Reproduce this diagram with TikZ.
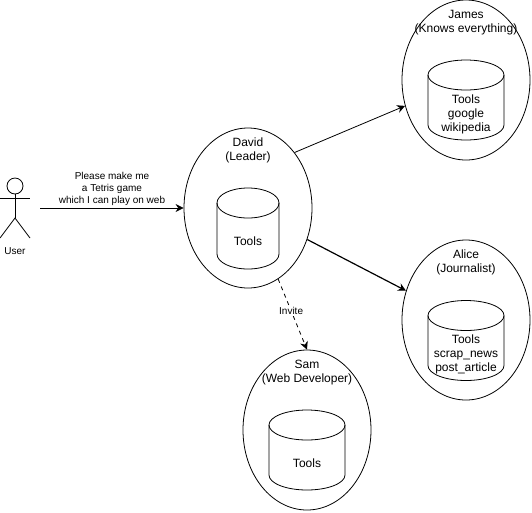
\documentclass[tikz,border=0pt]{standalone}
\usepackage{fontspec}
\setmainfont{Liberation Sans}
\usetikzlibrary{shapes.geometric,arrows.meta}
\tikzset{
    agent/.style={draw,ellipse,inner sep=0pt,minimum width=96pt,minimum height=120pt},
    txt/.style={align=center,inner sep=0pt,font=\fontsize{9}{10.5}\selectfont},
    small/.style={align=center,inner sep=1pt,font=\fontsize{7.5}{9}\selectfont},
    conn/.style={-{Stealth[length=6pt,width=6pt]},line width=.6pt},
    pics/toolsdb/.style 2 args={code={
        \draw (0,-#2+15) ellipse (#1 and 15);
        \draw (-#1,-#2+15)--(-#1,#2-15) arc (180:0:#1 and 15)--(#1,-#2+15);
    }},
}
\begin{document}
\begin{tikzpicture}[x=.75pt,y=-.75pt,line width=.6pt]
    \useasboundingbox (0,0) rectangle (532,512);
    % agents
    \node[agent] (david) at (248,208){};
    \node[agent] (james) at (466,80){};
    \node[agent] (alice) at (466,320){};
    \node[agent] (sam) at (307,430){};
    \node[txt] (davidname) at (248,150){David\\(Leader)};
    \node[txt] (jamesname) at (466,23){James\\(Knows everything)};
    \node[txt] (alicename) at (466,262){Alice\\(Journalist)};
    \node[txt] (samname) at (307,373){Sam\\(Web Developer)};
    % tools
    \pic at (248,228.5) {toolsdb={31}{40.5}};
    \pic at (466,100) {toolsdb={38}{40}};
    \pic at (466,340.5) {toolsdb={38}{40}};
    \pic at (307,450) {toolsdb={38}{40}};
    \node[txt] (davidlist) at (248,241){Tools};
    \node[txt] (jameslist) at (466,114){Tools\\google\\wikipedia};
    \node[txt] (alicelist) at (466,354){Tools\\scrap\_news\\post\_article};
    \node[txt] (samlist) at (307,463){Tools};
    % user
    \node[draw,circle,inner sep=0pt,minimum size=12pt] (head) at (15,186){};
    \coordinate (hip) at (15,218);
    \coordinate (handl) at (0,198);
    \coordinate (handr) at (30,198);
    \coordinate (footl) at (0,238);
    \coordinate (footr) at (30,238);
    \coordinate (start) at (40,208);
    \draw (head)--(hip);
    \draw (handl)--(handr);
    \draw (footl)--(hip)--(footr);
    \node[small] (user) at (15,251){User};
    % messages
    \draw[conn] (start)--(david.west);
    \node[small] (request) at (112,189){Please make me\\a Tetris game\\which I can play on web};
    \draw[conn] (david.50)--(james.203);
    \draw[conn,line width=.9pt] (david.-28)--(alice.154);
    \draw[conn,dashed] (david.-67)--(sam.north) node[pos=.45,small,fill=white]{Invite};
\end{tikzpicture}
\end{document}
